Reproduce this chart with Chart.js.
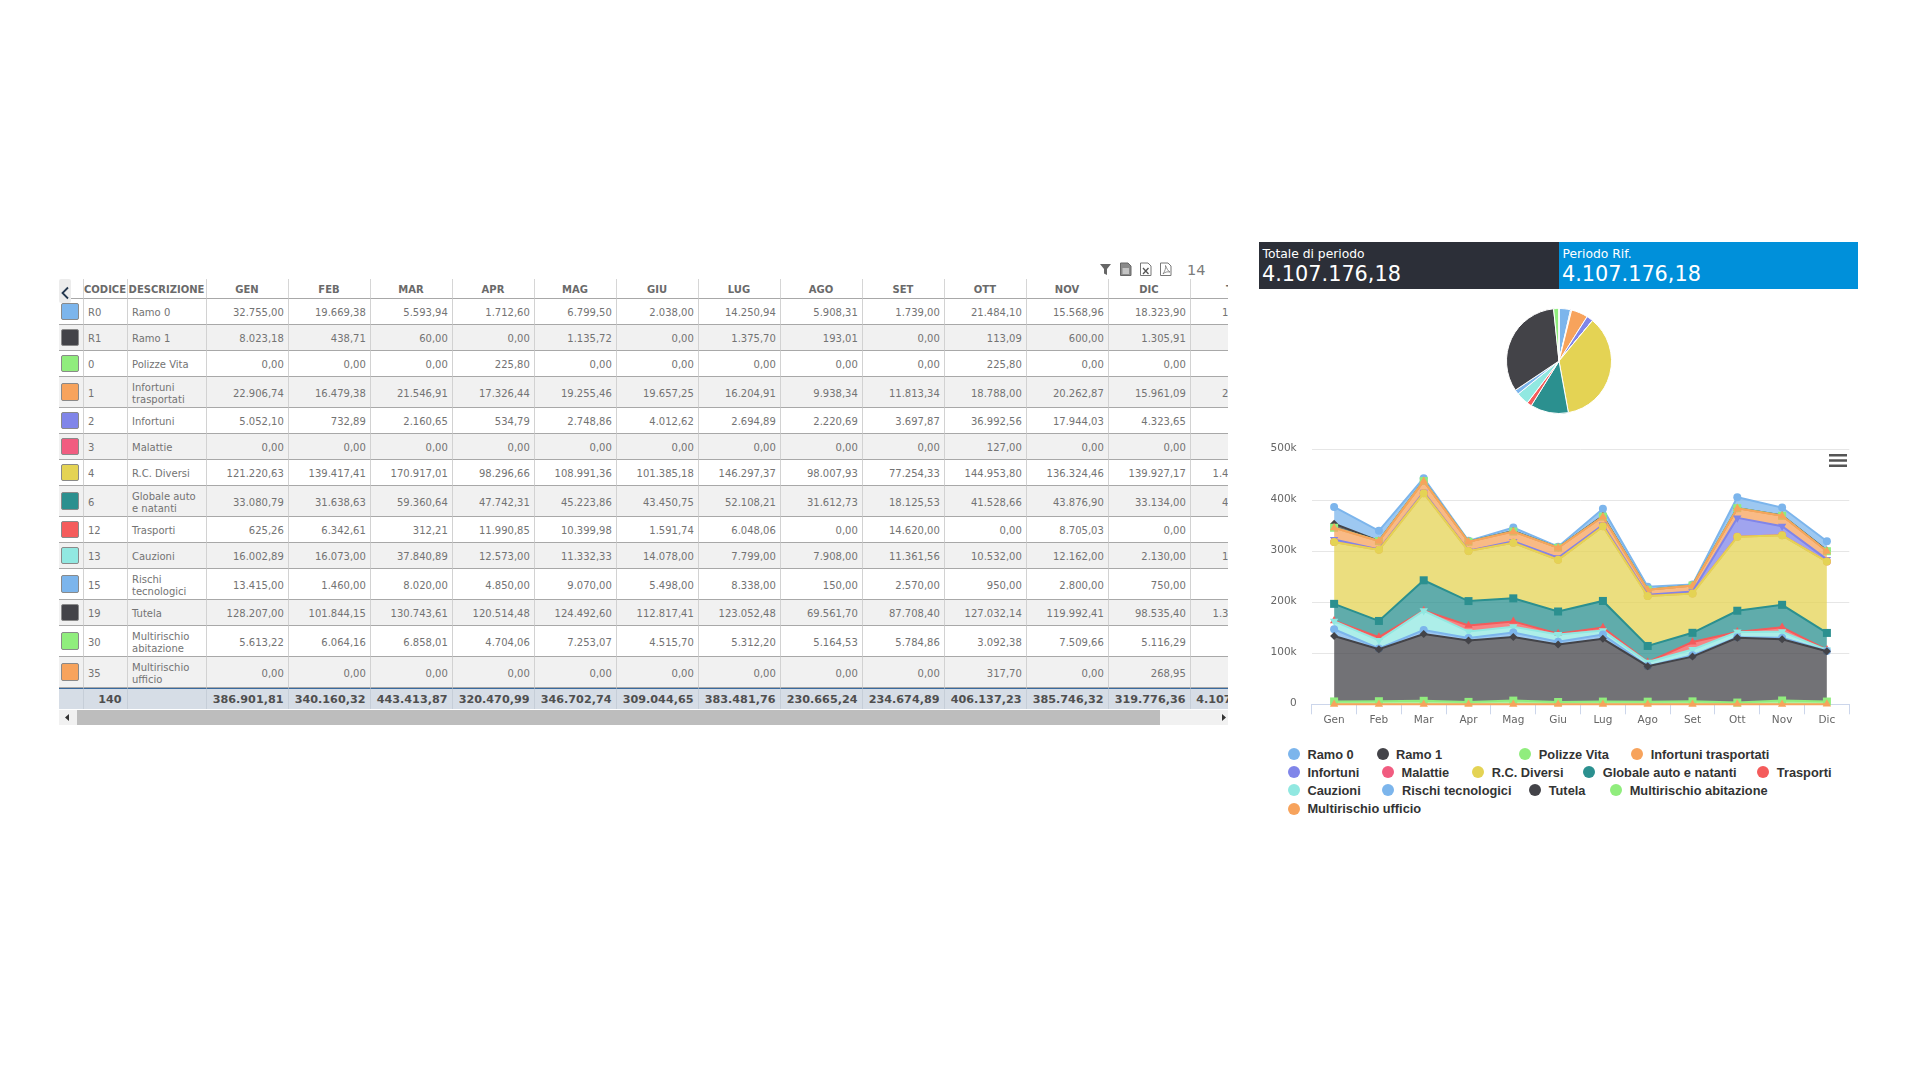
<!DOCTYPE html>
<html lang="it"><head><meta charset="utf-8"><title>Totale di periodo</title>
<script src="https://cdn.jsdelivr.net/npm/chart.js@4/dist/chart.umd.min.js"></script>
<style>
html,body{margin:0;padding:0;background:#fff;width:1920px;height:1080px;overflow:hidden}
body{font-family:"DejaVu Sans",sans-serif;position:relative}
.abs{position:absolute}
#tw{left:59px;top:279px;width:1169px;overflow:hidden}
table{border-collapse:separate;border-spacing:0;table-layout:fixed;width:1225px;font-size:10px;color:#737373}
th{padding:2px 0 0 0;font-weight:bold;color:#6a6a6a;text-align:center;border-bottom:1px solid #a8a8a8;border-right:1px solid #d6d6d6;box-sizing:border-box;height:20px}
th.last{text-align:left;padding-left:35.500px}
td{box-sizing:border-box;height:26px;padding:4.700px 3.700px 1.300px 4.500px;line-height:12px;border-bottom:1px solid #a8a8a8;border-right:1px solid #d2d2d2}
td.n{text-align:right}
tr.alt td{background:#f1f1f1}
td.sw{padding:0 0 0 2px}
td.sw i{display:block;width:15.5px;height:15.5px;border:1px solid #8a8a8a;border-radius:2px}
tr.tot td{height:20px;background:#d6dde6;border-top:1px solid #3a6a9e;border-bottom:none;border-right:1px solid #c6ced8;font-weight:bold;font-size:11.2px;color:#4f4f4f;padding:1px 4px 0 0;line-height:19px}
#toggle{left:59px;top:279px;width:12px;height:24px;background:#ececec;border-radius:2px}
#sb{left:59px;top:710px;width:1169px;height:15px;background:#f1f1f1}
#thumb{left:77px;top:710px;width:1083px;height:15px;background:#bdbdbd}
.kpi{top:242px;height:47px;color:#fff}
.kpi .l{position:absolute;left:3.5px;top:5px;font-size:12.3px;line-height:15px;white-space:nowrap}
.kpi .v{position:absolute;left:3px;top:19px;font-size:20.800px;line-height:26px;white-space:nowrap}
#count{left:1187px;top:262px;font-size:14.5px;color:#7b7b7b;line-height:16px}
.lg{position:absolute;font:bold 12.8px "Liberation Sans",sans-serif;color:#333;white-space:nowrap;line-height:14px}
.dot{position:absolute;width:12px;height:12px;border-radius:50%}
canvas{position:absolute;display:block}
</style></head><body>

<div class="abs" id="tw"></div>
<div class="abs" id="toggle"><svg width="12" height="24"><path d="M9 8.500 L3.500 14 L9 19.500" fill="none" stroke="#24384f" stroke-width="1.800"/></svg></div>
<div class="abs" id="sb"><svg width="1169" height="15"><path d="M10 4 L6 7.5 L10 11Z M1163 4 L1167 7.5 L1163 11Z" fill="#333"/></svg></div>
<div class="abs" id="thumb"></div>

<svg class="abs" style="left:1098px;top:262px" width="80" height="14" viewBox="0 0 80 14">
 <path d="M2 2 H13 L9 7 V13 L6 11.5 V7Z" fill="#666"/>
 <path d="M22.500 1 H30 L33 4 V13.500 H22.500Z" fill="#8a8a8a" stroke="#666" stroke-width="1"/>
 <path d="M24.500 7 H31 M24.500 9 H31 M24.500 11 H31" stroke="#fff" stroke-width="1"/>
 <path d="M42.500 1 H50 L53 4 V13.500 H42.500Z" fill="#fff" stroke="#777" stroke-width="1"/>
 <path d="M45 6 L50.500 12 M50.500 6 L45 12" stroke="#555" stroke-width="1.300"/>
 <path d="M62.500 1 H70 L73 4 V13.500 H62.500Z" fill="#fff" stroke="#777" stroke-width="1"/>
 <path d="M65 12 C67 9 68 6 67.500 3.500 C69 7 70 9 72 10 C69 9.500 67 10 65 12Z" fill="none" stroke="#777" stroke-width=".8"/>
</svg>
<div class="abs" id="count">14</div>

<div class="abs kpi" style="left:1259px;width:300px;background:#2c2f38"><div class="l">Totale di periodo</div><div class="v">4.107.176,18</div></div>
<div class="abs kpi" style="left:1559px;width:299px;background:#0090da"><div class="l">Periodo Rif.</div><div class="v">4.107.176,18</div></div>

<canvas id="pie" width="120" height="120" style="left:1499px;top:301px;width:120px;height:120px"></canvas>
<canvas id="area" width="600" height="290" style="left:1259px;top:440px;width:600px;height:290px"></canvas>
<svg class="abs" style="left:1829px;top:454px" width="18" height="13"><path d="M0 1.300H18M0 6.500H18M0 11.700H18" stroke="#555" stroke-width="2.400"/></svg>
<div id="legend"></div>

<script>
const categories=["Gen","Feb","Mar","Apr","Mag","Giu","Lug","Ago","Set","Ott","Nov","Dic"];
const columnHeads=["GEN","FEB","MAR","APR","MAG","GIU","LUG","AGO","SET","OTT","NOV","DIC","TOTALE"];
const yTicks=[0,100000,200000,300000,400000,500000];

const ramo0=[32755.00,19669.38,5593.94,1712.60,6799.50,2038.00,14250.94,5908.31,1739.00,21484.10,15568.96,18323.90];
const ramo1=[8023.18,438.71,60.00,0,1135.72,0,1375.70,193.01,0,113.09,600.00,1305.91];
const polizzeVita=[0,0,0,225.80,0,0,0,0,0,225.80,0,0];
const infortuniTrasportati=[22906.74,16479.38,21546.91,17326.44,19255.46,19657.25,16204.91,9938.34,11813.34,18788.00,20262.87,15961.09];
const infortuni=[5052.10,732.89,2160.65,534.79,2748.86,4012.62,2694.89,2220.69,3697.87,36992.56,17944.03,4323.65];
const malattie=[0,0,0,0,0,0,0,0,0,127.00,0,0];
const rcDiversi=[121220.63,139417.41,170917.01,98296.66,108991.36,101385.18,146297.37,98007.93,77254.33,144953.80,136324.46,139927.17];
const globaleAuto=[33080.79,31638.63,59360.64,47742.31,45223.86,43450.75,52108.21,31612.73,18125.53,41528.66,43876.90,33134.00];
const trasporti=[625.26,6342.61,312.21,11990.85,10399.98,1591.74,6048.06,0,14620.00,0,8705.03,0];
const cauzioni=[16002.89,16073.00,37840.89,12573.00,11332.33,14078.00,7799.00,7908.00,11361.56,10532.00,12162.00,2130.00];
const rischiTecnologici=[13415.00,1460.00,8020.00,4850.00,9070.00,5498.00,8338.00,150.00,2570.00,950.00,2800.00,750.00];
const tutela=[128207.00,101844.15,130743.61,120514.48,124492.60,112817.41,123052.48,69561.70,87708.40,127032.14,119992.41,98535.40];
const multirischioAbitazione=[5613.22,6064.16,6858.01,4704.06,7253.07,4515.70,5312.20,5164.53,5784.86,3092.38,7509.66,5116.29];
const multirischioUfficio=[0,0,0,0,0,0,0,0,0,317.70,0,268.95];

const monthTotals=[386901.81,340160.32,443413.87,320470.99,346702.74,309044.65,383481.76,230665.24,234674.89,406137.23,385746.32,319776.36];
const grandTotal=4107176.18;
const seriesTotals=[145843.63,13245.32,451.60,210140.73,83115.60,127.00,1482993.31,480883.01,60635.74,159792.67,57871.00,1344501.78,66988.14,586.65];

const codes=["R0","R1","0","1","2","3","4","6","12","13","15","19","30","35"];
const names=["Ramo 0","Ramo 1","Polizze Vita","Infortuni trasportati","Infortuni","Malattie","R.C. Diversi","Globale auto e natanti","Trasporti","Cauzioni","Rischi tecnologici","Tutela","Multirischio abitazione","Multirischio ufficio"];
const colors=["#7cb5ec","#434348","#90ed7d","#f7a35c","#8085e9","#f15c80","#e4d354","#2b908f","#f45b5b","#91e8e1","#7cb5ec","#434348","#90ed7d","#f7a35c"];
const symbols=["circle","rectRot","rect","triangle","triangleDown","circle","circle","rect","triangle","triangleDown","circle","rectRot","rect","triangle"];
const seriesValues=[ramo0,ramo1,polizzeVita,infortuniTrasportati,infortuni,malattie,rcDiversi,globaleAuto,trasporti,cauzioni,rischiTecnologici,tutela,multirischioAbitazione,multirischioUfficio];

function fmt(v){const p=v.toFixed(2).split(".");return p[0].replace(/\B(?=(\d{3})+$)/g,".")+","+p[1];}

/* table */
let html='<table><colgroup><col style="width:24.5px"><col style="width:44px"><col style="width:79px">'+columnHeads.map((h,i)=>'<col style="width:'+(i===12?93.5:82)+'px">').join('')+'</colgroup>';
html+='<tr><th></th><th>CODICE</th><th>DESCRIZIONE</th>'+columnHeads.map((h,i)=>'<th'+(i===12?' class="last"':'')+'>'+h+'</th>').join('')+'</tr>';
names.forEach((n,i)=>{
  html+='<tr class="'+(i%2?'alt':'')+'"><td class="sw"><i style="background:'+colors[i]+'"></i></td><td>'+codes[i]+'</td><td>'+n+'</td>';
  seriesValues[i].forEach(v=>html+='<td class="n">'+fmt(v)+'</td>');
  html+='<td class="n">'+fmt(seriesTotals[i])+'</td></tr>';
});
html+='<tr class="tot"><td></td><td style="text-align:right;padding-right:5px">140</td><td></td>';
monthTotals.forEach(v=>html+='<td class="n">'+fmt(v)+'</td>');
html+='<td class="n">'+fmt(grandTotal)+'</td></tr></table>';
document.getElementById('tw').innerHTML=html;

/* legend */
const legendRows=[[[1294.4,1307.4,0],[1382.6,1396,1],[1525,1538.8,2],[1637,1650.7,3]],
 [[1294.4,1307.4,4],[1387.7,1401.6,5],[1478,1491.7,6],[1588.6,1602.8,7],[1763,1776.8,8]],
 [[1294.4,1307.4,9],[1387.7,1402,10],[1534.8,1548.7,11],[1615.9,1629.7,12]],
 [[1294.4,1307.4,13]]];
const legendY=[754.5,772.5,790.9,809];
let lg='';
legendRows.forEach((r,ri)=>r.forEach(([sx,tx,i])=>{
  lg+='<span class="dot" style="left:'+(sx-6)+'px;top:'+(legendY[ri]-6.5)+'px;background:'+colors[i]+'"></span>';
  lg+='<span class="lg" style="left:'+tx+'px;top:'+(legendY[ri]-7)+'px">'+names[i]+'</span>';
}));
document.getElementById('legend').innerHTML=lg;

Chart.defaults.animation=false;
Chart.defaults.devicePixelRatio=1;

new Chart(document.getElementById('pie'),{type:'pie',
 data:{labels:names,datasets:[{data:seriesTotals,backgroundColor:colors,borderColor:'#fff',borderWidth:1,radius:52.5}]},
 options:{responsive:false,plugins:{legend:{display:false},tooltip:{enabled:false}}}});

function rgba(h,a){const n=parseInt(h.slice(1),16);return 'rgba('+(n>>16)+','+((n>>8)&255)+','+(n&255)+','+a+')';}
const order=names.map((_,i)=>13-i); /* stack bottom is the last row of the table */
const datasets=order.map((i,k)=>{
  const s=symbols[i];
  const style=s==='triangleDown'?'triangle':s;
  const r=s==='rect'?5.66:(s==='triangle'||s==='triangleDown')?4.8:4;
  return {label:names[i],data:seriesValues[i],stack:'a',fill:k===0?'origin':'-1',
    borderColor:colors[i],backgroundColor:rgba(colors[i],0.75),borderWidth:2,tension:0,clip:false,
    pointStyle:style,pointRotation:s==='triangleDown'?180:0,pointRadius:r,pointHoverRadius:r,
    pointBackgroundColor:colors[i],pointBorderColor:colors[i],pointBorderWidth:0};
});
new Chart(document.getElementById('area'),{type:'line',
 data:{labels:categories,datasets},
 options:{responsive:false,maintainAspectRatio:false,
  layout:{padding:{top:9.3,right:9.7,left:0,bottom:0}},
  plugins:{legend:{display:false},tooltip:{enabled:false}},
  scales:{
   x:{type:'category',offset:true,
      grid:{offset:true,drawOnChartArea:false,drawTicks:true,tickLength:10,tickColor:'#ccd6eb',tickWidth:1},
      border:{display:true,color:'#ccd6eb',width:1},
      ticks:{color:'#666',font:{family:'"DejaVu Sans"',size:10.5},padding:0,maxRotation:0,autoSkip:false},
      afterFit:s=>{s.height=25.7;s.paddingLeft=0;s.paddingRight=0;}},
   y:{stacked:true,min:0,max:500000,
      afterBuildTicks:s=>{s.ticks=yTicks.map(v=>({value:v}));},
      grid:{color:'#e6e6e6',lineWidth:1,drawTicks:false},
      border:{display:false},
      ticks:{color:'#666',font:{family:'"DejaVu Sans"',size:10.5},padding:15,labelOffset:-1,
        callback:v=>v===0?'0':(v/1000)+'k'},
      afterFit:s=>{s.width=52.7;s.paddingTop=0;s.paddingBottom=0;}}
  }}});
</script>
</body></html>
